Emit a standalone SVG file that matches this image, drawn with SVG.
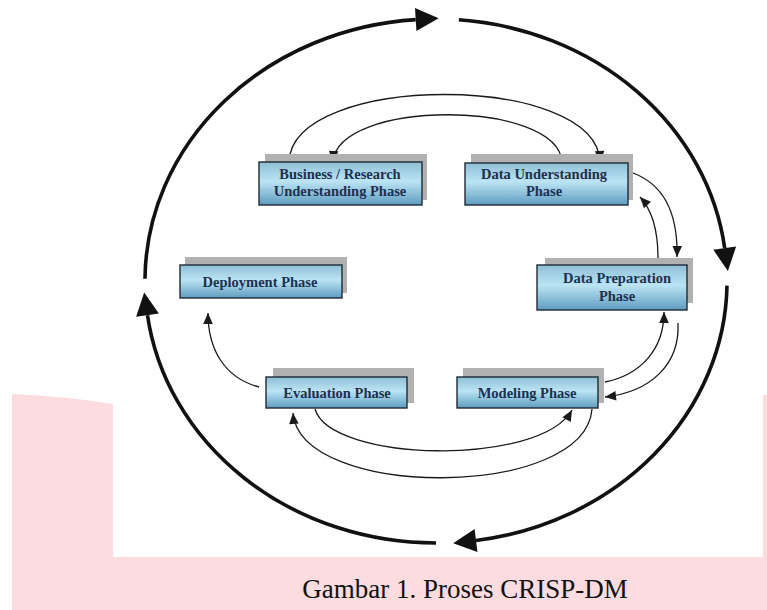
<svg xmlns="http://www.w3.org/2000/svg" width="767" height="610" viewBox="0 0 767 610">
<style>
.shadow{fill:#b1b1b1}
.box{fill:url(#boxgrad);stroke:#1e2a36;stroke-width:1.4}
.lbl{font-family:"Liberation Serif","Times New Roman",serif;font-weight:bold;font-size:14.5px;fill:#1c3050;text-anchor:middle}
.big{fill:none;stroke:#111;stroke-width:3.6;marker-end:url(#bigArrow)}
.thin{fill:none;stroke:#1a1a1a;stroke-width:1.3;marker-end:url(#smallArrow)}
.cap{font-family:"Liberation Serif","Times New Roman",serif;font-size:27px;fill:#111;text-anchor:middle}
</style>
<defs>
<linearGradient id="boxgrad" x1="0" y1="0" x2="0" y2="1">
<stop offset="0" stop-color="#8fbfd6"/>
<stop offset="0.45" stop-color="#bbe4f4"/>
<stop offset="1" stop-color="#5f9cc0"/>
</linearGradient>
<marker id="bigArrow" markerUnits="userSpaceOnUse" viewBox="0 -12 24 24" refX="0" refY="0" markerWidth="24" markerHeight="24" orient="auto" overflow="visible">
<path d="M0,-11.5 L23,0 L0,11.5 Z" fill="#111"/>
</marker>
<marker id="smallArrow" markerUnits="userSpaceOnUse" viewBox="0 -5 12 10" refX="11" refY="0" markerWidth="12" markerHeight="10" orient="auto" overflow="visible">
<path d="M0,-4.8 L11,0 L0,4.8 Z" fill="#1a1a1a"/>
</marker>
</defs>
<rect width="767" height="610" fill="#ffffff"/>
<path id="bg-pink" d="M12,394 Q62,396 113,404 L113,557 L763,557 L763,395 L767,395 L767,610 L12,610 Z" fill="#fcdcdf"/>

<g id="connectors">
<path class="big" d="M145.0,278.7 A291,262 0 0 1 415.7,19.6"/>
<path class="big" d="M458.8,19.8 A291,262 0 0 1 724.7,248.2"/>
<path class="big" d="M727.0,285.6 A291,262 0 0 1 476.0,540.5"/>
<path class="big" d="M436,543 A291,262 0 0 1 147.5,315.2"/>
<path class="thin" d="M289,162 C292,72 597,72 600,162"/>
<path class="thin" d="M562,162 C558,99 337,99 333,162"/>
<path class="thin" d="M633,173 C665,185 678,215 677,257"/>
<path class="thin" d="M658,258 C658,230 652,210 640,197"/>
<path class="thin" d="M605,382 C640,375 664,350 664,312"/>
<path class="thin" d="M678,323 C680,365 650,392 605,397"/>
<path class="thin" d="M315,409 C330,462 540,467 572,410"/>
<path class="thin" d="M592,409 C585,500 300,500 293,413"/>
<path class="thin" d="M259,387 C225,378 208,350 208,313"/>
</g>

<g id="node-business">
<rect class="shadow" x="265" y="154" width="162" height="46"/>
<rect class="box" x="259" y="162" width="163" height="43"/>
<text class="lbl" x="340" y="179">Business / Research</text>
<text class="lbl" x="340" y="196">Understanding Phase</text>
</g>

<g id="node-data-understanding">
<rect class="shadow" x="471" y="154" width="162" height="46"/>
<rect class="box" x="465" y="163" width="163" height="42"/>
<text class="lbl" x="544" y="179">Data Understanding</text>
<text class="lbl" x="544" y="196">Phase</text>
</g>

<g id="node-deployment">
<rect class="shadow" x="185" y="257" width="162" height="36"/>
<rect class="box" x="180" y="265" width="162" height="33"/>
<text class="lbl" x="260" y="287">Deployment Phase</text>
</g>

<g id="node-data-preparation">
<rect class="shadow" x="545" y="258" width="148" height="45"/>
<rect class="box" x="537" y="265" width="150" height="45"/>
<text class="lbl" x="617" y="283">Data Preparation</text>
<text class="lbl" x="617" y="301">Phase</text>
</g>

<g id="node-evaluation">
<rect class="shadow" x="273" y="368" width="141" height="35"/>
<rect class="box" x="266" y="377" width="141" height="31"/>
<text class="lbl" x="337" y="398">Evaluation Phase</text>
</g>

<g id="node-modeling">
<rect class="shadow" x="463" y="368" width="141" height="35"/>
<rect class="box" x="457" y="377" width="141" height="31"/>
<text class="lbl" x="527" y="398">Modeling Phase</text>
</g>

<text class="cap" x="465" y="598">Gambar 1. Proses CRISP-DM</text>
</svg>
